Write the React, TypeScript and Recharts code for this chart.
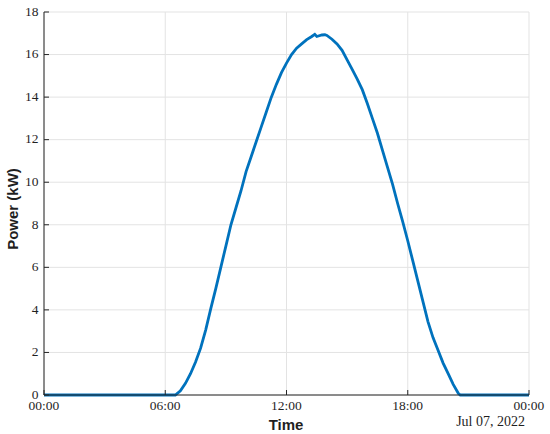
import { LineChart, Line, XAxis, YAxis, CartesianGrid, Label } from "recharts";

// hours of the day (Jul 07, 2022) and PV output in kW
const hours = [
  0, 6.5, 6.75, 7, 7.25, 7.5, 7.75, 8, 8.25, 8.5, 8.75, 9, 9.25, 9.5, 9.75, 10,
  10.25, 10.5, 10.75, 11, 11.25, 11.5, 11.75, 12, 12.25, 12.5, 12.75, 13, 13.25,
  13.4, 13.5, 13.75, 13.9, 14, 14.25, 14.5, 14.75, 15, 15.25, 15.5, 15.75, 16,
  16.25, 16.5, 16.75, 17, 17.25, 17.5, 17.75, 18, 18.25, 18.5, 18.75, 19, 19.25,
  19.5, 19.75, 20, 20.25, 20.5, 20.6, 24,
];
const power = [
  0, 0, 0.2, 0.55, 1.0, 1.55, 2.2, 3.05, 4.05, 5.0, 6.0, 7.0, 8.0, 8.8, 9.6, 10.5,
  11.2, 11.9, 12.6, 13.3, 14.0, 14.6, 15.15, 15.6, 16.0, 16.3, 16.5, 16.7, 16.85,
  16.95, 16.85, 16.92, 16.93, 16.9, 16.72, 16.5, 16.2, 15.75, 15.3, 14.85, 14.35,
  13.7, 13.0, 12.3, 11.5, 10.7, 9.9, 9.0, 8.15, 7.25, 6.3, 5.35, 4.4, 3.45, 2.7,
  2.1, 1.5, 1.0, 0.5, 0.08, 0, 0,
];
const xTicks = [0, 6, 12, 18, 24];
const yTicks = [0, 2, 4, 6, 8, 10, 12, 14, 16, 18];
const dateLabel = "Jul 07, 2022";

const data = hours.map((t, i) => ({ t, p: power[i] }));

const axisColor = "#262626";
const textColor = "#1f1f1f";
const fmtTime = (h: number) => `${String(h % 24).padStart(2, "0")}:00`;

// serif tick labels, like the MATLAB export
const XTick = (props: any) => (
  <text
    x={props.x}
    y={410}
    textAnchor="middle"
    fontFamily="Liberation Serif"
    fontSize={13.5}
    fill={textColor}
  >
    {fmtTime(props.payload.value)}
  </text>
);

const YTick = (props: any) => (
  <text
    x={38.5}
    y={props.y + 3.8}
    textAnchor="end"
    fontFamily="Liberation Serif"
    fontSize={13.5}
    fill={textColor}
  >
    {props.payload.value}
  </text>
);

export default function App() {
  return (
    <div style={{ position: "absolute", left: 0, top: 0, background: "#fff" }}>
      <LineChart
        width={550}
        height={434}
        data={data}
        margin={{ top: 12, right: 21, left: 0, bottom: 0 }}
      >
        <CartesianGrid stroke="#e3e3e3" strokeWidth={1} />
        <XAxis
          dataKey="t"
          type="number"
          domain={[0, 24]}
          ticks={xTicks}
          interval={0}
          height={39}
          stroke={axisColor}
          tickSize={-5}
          tick={<XTick />}
        >
          <Label
            content={() => (
              <g>
                <text
                  x={286}
                  y={430}
                  textAnchor="middle"
                  fontFamily="Liberation Sans"
                  fontWeight="bold"
                  fontSize={15}
                  fill={textColor}
                >
                  Time
                </text>
                <text
                  x={525}
                  y={426}
                  textAnchor="end"
                  fontFamily="Liberation Serif"
                  fontSize={14}
                  fill={textColor}
                >
                  {dateLabel}
                </text>
              </g>
            )}
          />
        </XAxis>
        <XAxis
          xAxisId="top"
          orientation="top"
          dataKey="t"
          type="number"
          domain={[0, 24]}
          ticks={xTicks}
          interval={0}
          height={0}
          stroke={axisColor}
          tickSize={-5}
          tickFormatter={() => ""}
        />
        <YAxis
          domain={[0, 18]}
          ticks={yTicks}
          interval={0}
          width={44}
          stroke={axisColor}
          tickSize={-5}
          tick={<YTick />}
        >
          <Label
            content={() => (
              <text
                x={18}
                y={209}
                transform="rotate(-90 18 209)"
                textAnchor="middle"
                fontFamily="Liberation Sans"
                fontWeight="bold"
                fontSize={15}
                fill={textColor}
              >
                Power (kW)
              </text>
            )}
          />
        </YAxis>
        <YAxis
          yAxisId="right"
          orientation="right"
          domain={[0, 18]}
          ticks={yTicks}
          interval={0}
          width={0}
          stroke={axisColor}
          tickSize={-5}
          tickFormatter={() => ""}
        />
        <Line
          dataKey="p"
          type="linear"
          stroke="#0072BD"
          strokeWidth={2.8}
          dot={false}
          isAnimationActive={false}
        />
      </LineChart>
    </div>
  );
}
